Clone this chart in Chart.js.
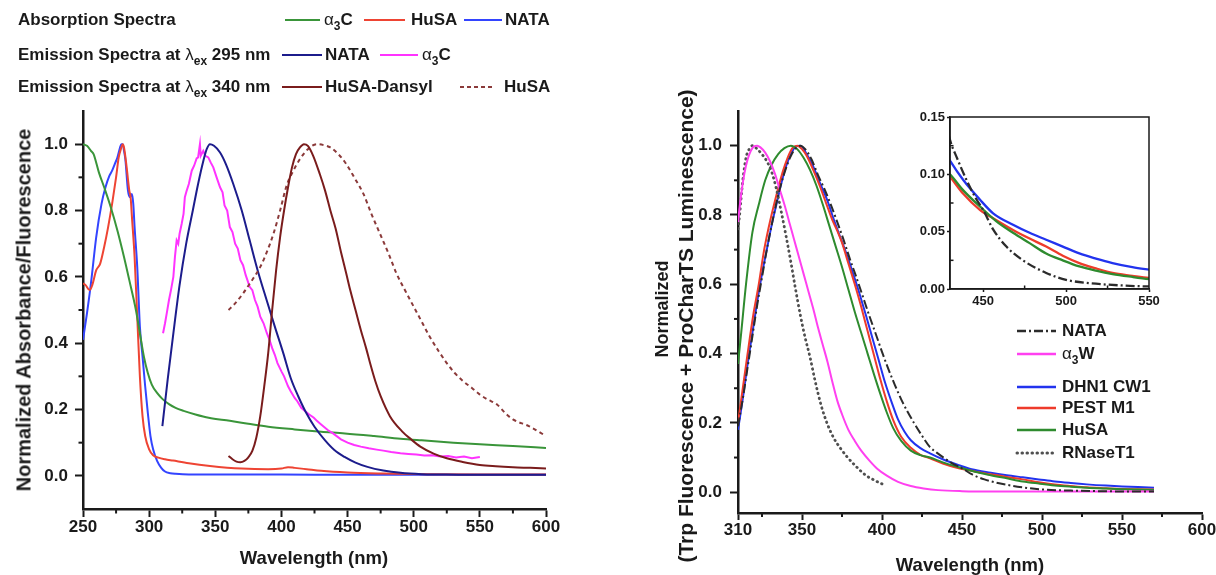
<!DOCTYPE html>
<html><head><meta charset="utf-8">
<script src="https://cdn.jsdelivr.net/npm/chart.js@4.4.1/dist/chart.umd.min.js"></script>
<style>
html,body{margin:0;padding:0;background:#fff}
#wrap{position:relative;width:1216px;height:575px;overflow:hidden;font-family:"Liberation Sans",Arial,Helvetica,sans-serif;font-weight:bold;color:#1a1a1a}
canvas{position:absolute}
.t{position:absolute;white-space:nowrap;line-height:20px;height:20px}
.t sub{font-size:12px;line-height:0;vertical-align:-5px}
.g{font-weight:normal}
.rot{position:absolute;white-space:nowrap;transform:translate(-50%,-50%) rotate(-90deg)}
.ctr{position:absolute;white-space:nowrap;transform:translate(-50%,-50%)}
svg{position:absolute;overflow:visible}
</style></head><body><div id="wrap">
<canvas id="cL" width="600" height="575" style="left:0;top:0"></canvas>
<canvas id="cR" width="596" height="575" style="left:620px;top:0"></canvas>
<canvas id="cI" width="260" height="220" style="left:900px;top:100px"></canvas>
</div>
<script>
// ================= DATA : left panel (absorption / emission) =================
const absA3C_x=[250,253,256,258,262,266,271,276,281,285,290,293,296,299,302,306,310,315,320,326,335,345,361,375,390,410,430,448,470,490,506,530,550,575,600];
const absA3C_y=[1.0,0.995,0.98,0.97,0.915,0.87,0.81,0.74,0.66,0.59,0.5,0.43,0.36,0.31,0.275,0.25,0.232,0.216,0.205,0.196,0.185,0.175,0.166,0.157,0.148,0.14,0.133,0.128,0.12,0.112,0.107,0.1,0.095,0.09,0.084];

const absHuSA_x=[250,252,255,257,260,263,266,269,272,275,277,279,280,281,283,285,286,287,289,291,293,295,297,300,303,307,312,318,330,346,370,390,400,405,410,419,430,450,477,510,550,600];
const absHuSA_y=[0.58,0.575,0.56,0.575,0.62,0.64,0.69,0.75,0.82,0.9,0.96,0.99,1.0,0.99,0.93,0.86,0.84,0.78,0.66,0.48,0.3,0.18,0.12,0.08,0.062,0.055,0.05,0.046,0.038,0.03,0.022,0.02,0.022,0.026,0.024,0.02,0.015,0.01,0.007,0.005,0.004,0.004];

const absNATA_x=[250,253,256,260,264,267,270,272,274,276,278,279,280,281,282,284,285.5,287,288,289,291,293,295,297,299,301,303,306,309,312,316,320,330,350,400,450,500,550,600];
const absNATA_y=[0.41,0.49,0.58,0.72,0.82,0.87,0.905,0.92,0.94,0.96,0.99,1.0,1.0,0.98,0.955,0.86,0.84,0.85,0.82,0.75,0.63,0.45,0.36,0.27,0.19,0.12,0.08,0.045,0.025,0.013,0.008,0.006,0.004,0.004,0.004,0.003,0.003,0.003,0.003];

const emNATA_x=[310,312,314,318,323,328,333,337,341,343.5,346,349,353.6,358,363.6,370,376,382,388.8,395,401.4,407,412.7,418.7,425,433,440,447.7,456,465,477,490,506,520,540,560,580,600];
const emNATA_y=[0.15,0.22,0.29,0.42,0.575,0.7,0.8,0.88,0.95,0.985,1.0,0.995,0.975,0.94,0.88,0.8,0.71,0.62,0.53,0.45,0.37,0.295,0.24,0.19,0.148,0.107,0.078,0.057,0.04,0.027,0.016,0.009,0.005,0.004,0.003,0.003,0.003,0.003];

const emA3C_x=[310.5,312,313.3,315,316.5,318.3,319.5,320.8,322,323,324.6,326,327,328.4,330,332.2,334,335.9,337,338.4,339,340.9,342.5,344.7,346.5,348.5,351,353.6,355.5,357,359,361,363,365,367,369,371,373,376,378,380,382,384,386.5,389,391,393,395,397,400,402,405,407,410,412,415,418,421,424.5,427,430,435,439,445,450,455,460,466,472,477,483,490,496,502,508,514,520,526,532,538,544,550];
const emA3C_y=[0.43,0.46,0.49,0.53,0.56,0.6,0.66,0.71,0.7,0.73,0.76,0.79,0.84,0.86,0.88,0.92,0.935,0.957,0.96,1.0,0.965,0.98,0.965,0.96,0.945,0.93,0.9,0.87,0.855,0.815,0.8,0.75,0.735,0.7,0.685,0.65,0.635,0.605,0.57,0.56,0.53,0.51,0.48,0.46,0.43,0.41,0.385,0.365,0.34,0.315,0.3,0.27,0.255,0.235,0.225,0.205,0.195,0.185,0.175,0.165,0.155,0.138,0.128,0.11,0.1,0.093,0.088,0.083,0.079,0.076,0.072,0.068,0.066,0.064,0.061,0.062,0.058,0.06,0.055,0.058,0.053,0.057];

const emDansyl_x=[360,363,366,369,372,375,378,381,384,387,390,393,396,399,402,405,408,411,414,417,420,424,429,433,437,441,445,449,452,456,460,464,467,471,475,482,491,498,505,515,525,537,550,562,575,588,600];
const emDansyl_y=[0.06,0.05,0.043,0.041,0.045,0.056,0.075,0.115,0.18,0.27,0.37,0.5,0.62,0.72,0.8,0.87,0.93,0.97,0.99,1.0,0.995,0.965,0.91,0.86,0.8,0.745,0.675,0.61,0.56,0.5,0.44,0.385,0.34,0.285,0.24,0.18,0.135,0.11,0.088,0.067,0.053,0.042,0.033,0.029,0.026,0.024,0.022];

const emHuSA_x=[360,365,371,377,384,389,394,399,404,409,414,420,426.6,432,437,443,449,455,462,468,474.5,481,487,494,500,506,512,519,525,531,537.5,544,550,556,563,569,575,587,600];
const emHuSA_y=[0.5,0.52,0.55,0.585,0.63,0.675,0.73,0.8,0.876,0.92,0.955,0.985,1.0,0.997,0.99,0.97,0.94,0.9,0.85,0.79,0.73,0.67,0.61,0.555,0.51,0.465,0.42,0.375,0.34,0.31,0.285,0.265,0.245,0.23,0.215,0.19,0.17,0.15,0.12];

// ================= DATA : right panel (Trp fluorescence) =================
const rNATA_x=[310,313,316,319,322,325,328,331,334,337,340,343,346,349,352,356,360,364,368,372,376,380,384,388,392,396,400,404,408,412,416,420,425,430,434,440,446,450,456,464,474,488,500,518,535,548,570];
const rNATA_y=[0.19,0.27,0.36,0.45,0.54,0.62,0.70,0.77,0.835,0.89,0.935,0.97,0.992,1.0,0.99,0.96,0.915,0.875,0.83,0.78,0.728,0.672,0.62,0.565,0.51,0.458,0.405,0.355,0.31,0.268,0.232,0.2,0.163,0.13,0.115,0.095,0.078,0.069,0.052,0.037,0.025,0.014,0.008,0.0046,0.003,0.0023,0.002];

const rA3W_x=[310,312,314,316,318,320,322,324,327,330,333,336,339,342,345,348,351,354,357,360,363,366,369,372,375,379,383,387,392,397,403,410,418,426,435,450,470,500,530,570];
const rA3W_y=[0.78,0.86,0.92,0.96,0.985,0.998,1.0,0.995,0.98,0.955,0.92,0.875,0.83,0.78,0.73,0.68,0.63,0.58,0.53,0.475,0.425,0.375,0.318,0.265,0.225,0.18,0.148,0.12,0.092,0.068,0.048,0.03,0.018,0.011,0.006,0.003,0.002,0.002,0.002,0.002];

const rDHN1_x=[310,313,316,319,322,325,328,331,334,337,340,343,346,349,353,357,361,366,370,374,378,382,386,390,394,398,402,406,410,414,418,424,430,438,448,456,468,478,488,498,508,518,528,540,550,560,570];
const rDHN1_y=[0.18,0.27,0.37,0.46,0.55,0.63,0.7,0.77,0.83,0.89,0.94,0.975,0.997,1.0,0.975,0.94,0.895,0.84,0.785,0.735,0.685,0.63,0.572,0.51,0.445,0.38,0.315,0.26,0.21,0.175,0.15,0.127,0.112,0.095,0.078,0.066,0.056,0.049,0.043,0.037,0.031,0.0265,0.0226,0.019,0.0168,0.0148,0.013];

const rPEST_x=[310,313,316,319.5,323,326,329,332,335,338,341,344,347,350,353,357,361,365,369,372,375,379,383,387,391,395,399,403,407,412,418,424,430,438,448,458,468,478,488,498,508,518,528,540,550,560,570];
const rPEST_y=[0.2,0.3,0.4,0.51,0.6,0.69,0.76,0.82,0.875,0.925,0.965,0.993,1.0,0.99,0.97,0.93,0.885,0.835,0.785,0.755,0.72,0.66,0.6,0.535,0.465,0.395,0.325,0.262,0.208,0.16,0.128,0.108,0.098,0.083,0.069,0.06,0.0515,0.044,0.037,0.029,0.0226,0.018,0.014,0.0115,0.0096,0.0085,0.0075];

const rHuSA_x=[310,312,315,319,323,327,331,335,339,343,347,351,355,359,363,367,371,375,379,383,387,391,395,399,403,407,412,418,424,430,438,448,458,468,478,488,498,508,518,528,540,550,560,570];
const rHuSA_y=[0.37,0.46,0.6,0.75,0.83,0.9,0.945,0.975,0.993,1.0,0.99,0.965,0.93,0.885,0.83,0.77,0.71,0.65,0.585,0.52,0.46,0.4,0.34,0.283,0.23,0.185,0.148,0.12,0.107,0.1,0.086,0.072,0.059,0.049,0.04,0.031,0.025,0.0197,0.016,0.013,0.0105,0.0087,0.0075,0.0065];

const rRNase_x=[310,311,313,315,317,319,322,325,328,331,334,337,340,343,346,349,352,355,358,362,366,370,374,378,383,389.5,395,400];
const rRNase_y=[0.76,0.8,0.9,0.965,0.99,1.0,0.99,0.975,0.955,0.925,0.875,0.81,0.74,0.665,0.585,0.51,0.445,0.39,0.325,0.25,0.195,0.155,0.127,0.103,0.078,0.05,0.035,0.024];

// ================= TICKS =================
const leftXTicks=[250,300,350,400,450,500,550,600];
const leftXMinor=[275,325,375,425,475,525,575];
const leftYTicks=[0,0.2,0.4,0.6,0.8,1.0];
const leftYMinor=[0.1,0.3,0.5,0.7,0.9];
const rightXTicks=[310,350,400,450,500,550,600];
const rightXMinor=[325,375,425,475,525,575];
const rightYTicks=[0,0.2,0.4,0.6,0.8,1.0];
const rightYMinor=[0.1,0.3,0.5,0.7,0.9];
const insetXTicks=[450,500,550];
const insetXMinor=[475,525];
const insetYTicks=[0,0.05,0.1,0.15];
const insetYMinor=[0.025,0.075,0.125];

// ================= CHARTS =================
const FONT='"Liberation Sans", Arial, Helvetica, sans-serif';
const INK='#1a1a1a';
Chart.defaults.font.family=FONT;
const pts=(xs,ys)=>xs.map((x,i)=>({x:x,y:ys[i]}));

function ds(label,xs,ys,color,w,extra){
  return Object.assign({label:label,data:pts(xs,ys),borderColor:color,backgroundColor:color,borderWidth:w,
    pointRadius:0,pointHoverRadius:0,fill:false,cubicInterpolationMode:'monotone'},extra||{});
}
function axis(o){
  return {
    type:'linear',position:o.pos,min:o.min,max:o.max,
    afterBuildTicks:s=>{s.ticks=o.ticks.map(v=>({value:v}));},
    afterFit:s=>{ if(o.pos==='bottom'){s.height=o.size;s.paddingLeft=0;s.paddingRight=0;}
                  else {s.width=o.size;s.paddingTop=0;s.paddingBottom=0;} },
    ticks:{autoSkip:false,maxRotation:0,minRotation:0,padding:o.pad,color:INK,
      font:{family:FONT,size:o.fs,weight:'bold'},callback:v=>Number(v).toFixed(o.dec)},
    grid:{display:true,drawOnChartArea:false,drawTicks:true,tickLength:o.tl,tickWidth:o.tw||2,tickColor:INK},
    border:{display:true,color:INK,width:o.bw},
    title:{display:false}
  };
}
function extraTicks(cfg){
  return {id:'extraTicks',afterDraw(chart){
    const ctx=chart.ctx,a=chart.chartArea,xs=chart.scales.x,ys=chart.scales.y;
    const d=cfg.inward?-1:1;
    ctx.save();ctx.strokeStyle=INK;ctx.lineWidth=cfg.w;
    cfg.xMinor.forEach(v=>{const p=xs.getPixelForValue(v);ctx.beginPath();ctx.moveTo(p,a.bottom);ctx.lineTo(p,a.bottom+d*cfg.len);ctx.stroke();});
    cfg.yMinor.forEach(v=>{const p=ys.getPixelForValue(v);ctx.beginPath();ctx.moveTo(a.left,p);ctx.lineTo(a.left-d*cfg.len,p);ctx.stroke();});
    if(cfg.box){ctx.lineWidth=cfg.boxW;ctx.strokeRect(a.left,a.top,a.right-a.left,a.bottom-a.top);}
    ctx.restore();
  }};
}
function base(pad){
  return {responsive:false,maintainAspectRatio:false,animation:false,events:[],
    layout:{padding:pad},plugins:{legend:{display:false},tooltip:{enabled:false}}};
}

// left panel
const optL=base({top:111,right:54,left:0,bottom:0});
optL.scales={
  x:axis({pos:'bottom',min:250,max:600,ticks:leftXTicks,size:66,pad:0,fs:17,dec:0,tl:8,bw:2.5}),
  y:axis({pos:'left',min:-0.1,max:1.1,ticks:leftYTicks,size:83,pad:7,fs:17,dec:1,tl:8,bw:2.5})
};
new Chart(document.getElementById('cL'),{type:'line',
  data:{datasets:[
    ds('HuSA-Dansyl',emDansyl_x,emDansyl_y,'#7a1c1c',2),
    ds('HuSA (em 340)',emHuSA_x,emHuSA_y,'#8b3a3a',2,{borderDash:[4,3.5]}),
    ds('NATA (em 295)',emNATA_x,emNATA_y,'#1c1c8c',2),
    ds('α3C (em 295)',emA3C_x,emA3C_y,'#ff33ff',2,{cubicInterpolationMode:'default',tension:0}),
    ds('α3C (abs)',absA3C_x,absA3C_y,'#3a953a',2),
    ds('HuSA (abs)',absHuSA_x,absHuSA_y,'#ee4433',2),
    ds('NATA (abs)',absNATA_x,absNATA_y,'#3344ff',2)
  ]},
  options:optL,
  plugins:[extraTicks({xMinor:leftXMinor,yMinor:leftYMinor,len:4.5,w:2})]
});

// right panel
function rightSets(w){
  return [
    ds('NATA',rNATA_x,rNATA_y,'#2b2b2b',w,{borderDash:[9,3,2,3]}),
    ds('α3W',rA3W_x,rA3W_y,'#ff40f0',w),
    ds('RNaseT1',rRNase_x,rRNase_y,'#505050',w+0.8,{borderDash:[0.5,4.5],borderCapStyle:'round'}),
    ds('HuSA',rHuSA_x,rHuSA_y,'#2e8b2e',w),
    ds('PEST M1',rPEST_x,rPEST_y,'#ee3b2b',w),
    ds('DHN1 CW1',rDHN1_x,rDHN1_y,'#2233ee',w)
  ];
}
const optR=base({top:111,right:14,left:0,bottom:0});
optR.scales={
  x:axis({pos:'bottom',min:310,max:600,ticks:rightXTicks,size:62,pad:0,fs:17,dec:0,tl:7,bw:2.5}),
  y:axis({pos:'left',min:-0.06,max:1.1,ticks:rightYTicks,size:118,pad:8,fs:17,dec:1,tl:8,bw:2.5})
};
new Chart(document.getElementById('cR'),{type:'line',data:{datasets:rightSets(2)},options:optR,
  plugins:[extraTicks({xMinor:rightXMinor,yMinor:rightYMinor,len:4,w:2})]});

// inset
const optI=base({top:17,right:11,left:0,bottom:0});
optI.scales={
  x:axis({pos:'bottom',min:430,max:550,ticks:insetXTicks,size:31,pad:2,fs:13,dec:0,tl:3,tw:1.5,bw:1.5}),
  y:axis({pos:'left',min:0,max:0.15,ticks:insetYTicks,size:50,pad:2,fs:13,dec:2,tl:3,tw:1.5,bw:1.5})
};
new Chart(document.getElementById('cI'),{type:'line',data:{datasets:rightSets(2.3).filter(d=>d.label!=='α3W'&&d.label!=='RNaseT1')},options:optI,
  plugins:[extraTicks({xMinor:insetXMinor,yMinor:insetYMinor,len:3.5,w:1.5,inward:true,box:true,boxW:1.5})]});

// ================= TEXT : titles & legends =================
const W=document.getElementById('wrap');
const SVGNS='http://www.w3.org/2000/svg';
function txt(html,x,y,size){const d=document.createElement('div');d.className='t';d.style.left=x+'px';d.style.top=(y-10)+'px';d.style.fontSize=size+'px';d.innerHTML=html;W.appendChild(d);}
function rot(html,cx,cy,size){const d=document.createElement('div');d.className='rot';d.style.left=cx+'px';d.style.top=cy+'px';d.style.fontSize=size+'px';d.innerHTML=html;W.appendChild(d);}
function ctr(html,cx,cy,size){const d=document.createElement('div');d.className='ctr';d.style.left=cx+'px';d.style.top=cy+'px';d.style.fontSize=size+'px';d.innerHTML=html;W.appendChild(d);}
function seg(x1,x2,y,color,w,dash,cap){const s=document.createElementNS(SVGNS,'svg');s.setAttribute('width',x2-x1);s.setAttribute('height',8);
  s.style.left=x1+'px';s.style.top=(y-4)+'px';const l=document.createElementNS(SVGNS,'line');
  l.setAttribute('x1',0);l.setAttribute('y1',4);l.setAttribute('x2',x2-x1);l.setAttribute('y2',4);
  l.setAttribute('stroke',color);l.setAttribute('stroke-width',w);if(dash)l.setAttribute('stroke-dasharray',dash);
  if(cap)l.setAttribute('stroke-linecap',cap);s.appendChild(l);W.appendChild(s);}

// axis titles
rot('Normalized Absorbance/Fluorescence',24,310,20);
ctr('Wavelength (nm)',314,558,18.5);
rot('Normalized',662,309,18);
rot('(Trp Fluorescence + ProCharTS Luminescence)',686,326,21);
ctr('Wavelength (nm)',970,565,18.5);

// left legend
txt('Absorption Spectra',18,20,17);
seg(285,320,20,'#3a953a',2);txt('<span class="g">α</span><sub>3</sub>C',324,20,17);
seg(364,405,20,'#ee4433',2);txt('HuSA',411,20,17);
seg(464,502,20,'#3344ff',2);txt('NATA',505,20,17);
txt('Emission Spectra at <span class="g">λ</span><sub>ex</sub> 295 nm',18,55,17);
seg(282,322,55,'#1c1c8c',2);txt('NATA',325,55,17);
seg(380,418,55,'#ff33ff',2);txt('<span class="g">α</span><sub>3</sub>C',422,55,17);
txt('Emission Spectra at <span class="g">λ</span><sub>ex</sub> 340 nm',18,87,17);
seg(282,322,87,'#7a1c1c',2);txt('HuSA-Dansyl',325,87,17);
seg(460,495,87,'#8b3a3a',2,'4 3');txt('HuSA',504,87,17);

// right legend
seg(1017,1056,331,'#2b2b2b',2.3,'9 3 2 3');txt('NATA',1062,331,17);
seg(1017,1056,354,'#ff40f0',2.3);txt('<span class="g">α</span><sub>3</sub>W',1062,354,17);
seg(1017,1056,387,'#2233ee',2.3);txt('DHN1 CW1',1062,387,17);
seg(1017,1056,408,'#ee3b2b',2.3);txt('PEST M1',1062,408,17);
seg(1017,1056,430,'#2e8b2e',2.3);txt('HuSA',1062,430,17);
seg(1017,1056,453,'#505050',3,'0.5 4.5','round');txt('RNaseT1',1062,453,17);
</script></body></html>
